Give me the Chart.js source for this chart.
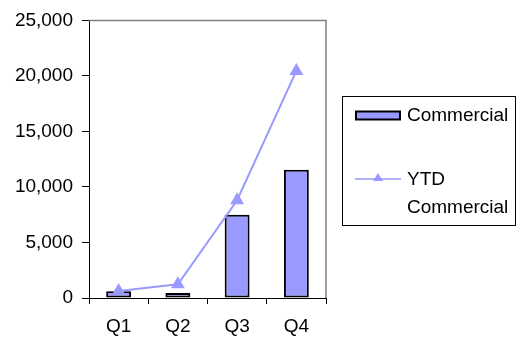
<!DOCTYPE html>
<html>
<head>
<meta charset="utf-8">
<script src="https://cdn.jsdelivr.net/npm/chart.js@4.4.0/dist/chart.umd.min.js"></script>
<style>
  html, body { margin: 0; padding: 0; background: #fff; }
  #wrap { position: relative; width: 519px; height: 339px; }
  #legend {
    position: absolute; left: 342px; top: 96px; width: 174px; height: 130px;
    border: 1px solid #000; box-sizing: border-box;
    font: 19px "Liberation Sans", Arial, sans-serif; color: #000;
  }
  .item { position: absolute; left: 12px; display: flex; align-items: flex-start; }
  .item .txt { line-height: 28px; width: 110px; }
  .sw { width: 46px; height: 28px; margin-right: 6px; flex: none; }
</style>
</head>
<body>
<div id="wrap">
  <canvas id="c" width="519" height="339"></canvas>
  <div id="legend"></div>
</div>
<script>
// ===== Dữ liệu =====
const quarters = ['Q1', 'Q2', 'Q3', 'Q4'];
const commercial = [610, 450, 7500, 11550];
const ytdCommercial = [620, 1230, 8800, 20450];
const yTicks = [0, 5000, 10000, 15000, 20000, 25000];

const BAR_COLOR = '#9999FF';
const FONT = { family: '"Liberation Sans", Arial, sans-serif', size: 19 };

// khung xám phía trên + bên phải vùng vẽ
const frame = {
  id: 'frame',
  beforeDatasetsDraw(chart) {
    const { ctx, chartArea: a } = chart;
    ctx.save();
    ctx.strokeStyle = '#808080';
    ctx.lineWidth = 1.5;
    ctx.beginPath();
    ctx.moveTo(a.left, a.top);
    ctx.lineTo(a.right, a.top);
    ctx.lineTo(a.right, a.bottom);
    ctx.stroke();
    ctx.restore();
  }
};

const chart = new Chart(document.getElementById('c'), {
  data: {
    labels: quarters,
    datasets: [
      {
        type: 'line',
        label: 'YTD Commercial',
        data: ytdCommercial,
        borderColor: BAR_COLOR,
        backgroundColor: BAR_COLOR,
        borderWidth: 2,
        pointStyle: 'triangle',
        pointRadius: 6,
        pointHoverRadius: 6,
        tension: 0,
        order: 0
      },
      {
        type: 'bar',
        label: 'Commercial',
        data: commercial,
        backgroundColor: BAR_COLOR,
        borderColor: '#000',
        borderWidth: 2,
        borderSkipped: false,
        categoryPercentage: 1,
        barPercentage: 0.42,
        order: 1
      }
    ]
  },
  options: {
    responsive: false,
    animation: false,
    layout: { padding: { top: 15.6, right: 193, left: 0, bottom: 0 } },
    plugins: { legend: { display: false }, tooltip: { enabled: false } },
    scales: {
      x: {
        offset: true,
        grid: { offset: true, drawOnChartArea: false, color: '#000', tickLength: 6, tickWidth: 1 },
        border: { color: '#000', width: 1 },
        ticks: { color: '#000', font: FONT, padding: 11 },
        afterFit(s) { s.height = 41; }
      },
      y: {
        min: 0, max: 25000,
        afterBuildTicks(s) { s.ticks = yTicks.map(v => ({ value: v })); },
        grid: { drawOnChartArea: false, color: '#000', tickLength: 7 },
        border: { color: '#000', width: 1 },
        ticks: {
          color: '#000', font: FONT, padding: 9,
          callback: v => v.toLocaleString('en-US')
        },
        afterFit(s) { s.width = 89; }
      }
    }
  },
  plugins: [frame]
});

// ===== Chú thích (HTML) =====
function buildLegend() {
  const box = document.getElementById('legend');
  const bar = chart.data.datasets[1];
  const line = chart.data.datasets[0];
  box.innerHTML = `
    <div class="item" style="top:4px">
      <svg class="sw" viewBox="0 0 46 28"><rect x="1" y="10.5" width="44" height="8" fill="${bar.backgroundColor}" stroke="#000" stroke-width="2"/></svg>
      <div class="txt">${bar.label}</div>
    </div>
    <div class="item" style="top:68px">
      <svg class="sw" viewBox="0 0 46 28"><line x1="0" y1="14" x2="46" y2="14" stroke="${line.borderColor}" stroke-width="1.5"/><polygon points="23,8 28,16 18,16" fill="${line.borderColor}"/></svg>
      <div class="txt">${line.label}</div>
    </div>`;
}
buildLegend();
</script>
</body>
</html>
